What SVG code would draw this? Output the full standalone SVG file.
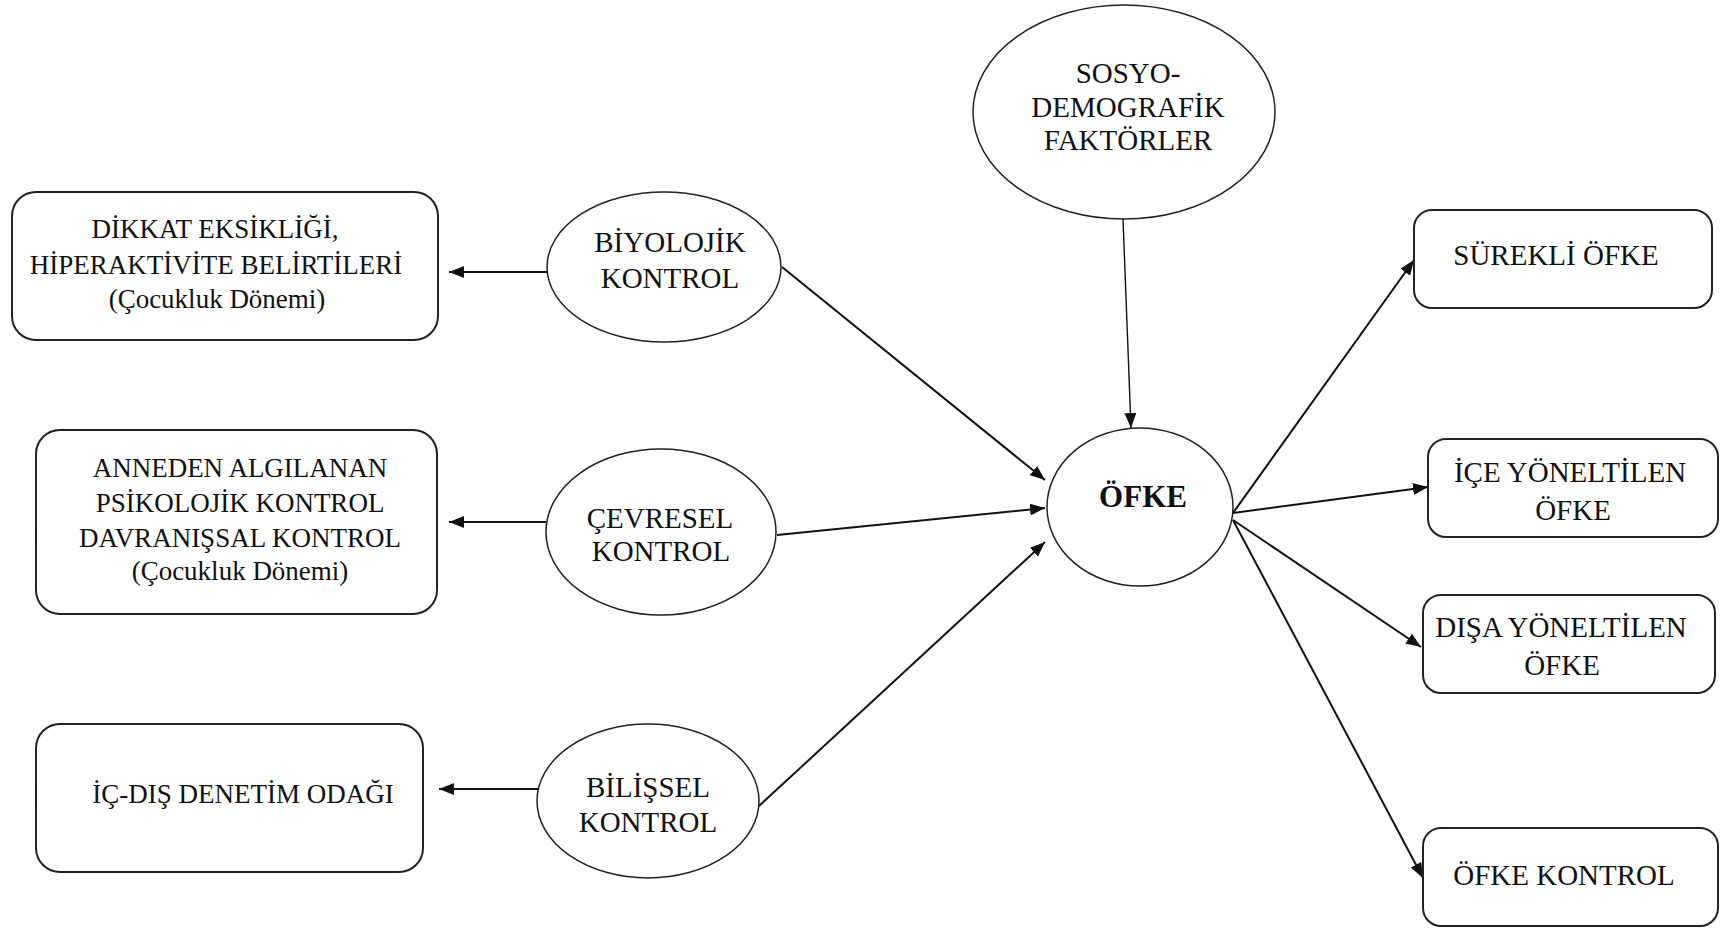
<svg xmlns="http://www.w3.org/2000/svg" width="1720" height="928" viewBox="0 0 1720 928">
<style>
  .bg{fill:#ffffff}
  .box{fill:#ffffff;stroke:#222;stroke-width:2}
  .ell{fill:#ffffff;stroke:#222;stroke-width:1.5}
  .t{font-family:"Liberation Serif","Times New Roman",serif;font-size:27px;fill:#111;text-anchor:middle}
  .l{font-size:29px}
  .b{font-weight:bold;font-size:31px}
  .c{fill:none;stroke:#111;stroke-width:2;marker-end:url(#ah)}
  .thin{stroke-width:1.4}
</style>
<defs>
  <marker id="ah" markerUnits="userSpaceOnUse" markerWidth="16" markerHeight="12" refX="15" refY="6" orient="auto">
    <path d="M0,0 L15,6 L0,12 z" fill="#111"/>
  </marker>
</defs>
<rect class="bg" x="0" y="0" width="1720" height="928"/>

<g id="connectors">
  <line class="c" x1="547" y1="272" x2="449" y2="272"/>
  <line class="c" x1="546" y1="522" x2="449" y2="522"/>
  <line class="c" x1="538" y1="789" x2="439" y2="789"/>
  <line class="c" x1="782" y1="267" x2="1045" y2="480"/>
  <line class="c" x1="777" y1="535" x2="1045" y2="508"/>
  <line class="c" x1="759" y1="806" x2="1045" y2="542"/>
  <line class="c thin" x1="1123" y1="219" x2="1131" y2="428"/>
  <line class="c" x1="1233" y1="513" x2="1414" y2="260"/>
  <line class="c" x1="1233" y1="513" x2="1428" y2="487"/>
  <line class="c" x1="1233" y1="520" x2="1421" y2="647"/>
  <line class="c" x1="1233" y1="520" x2="1423" y2="878"/>
</g>

<g id="n-dikkat">
  <rect class="box" x="12" y="192" width="426" height="148" rx="24"/>
  <text class="t" x="215" y="238">DİKKAT EKSİKLİĞİ,</text>
  <text class="t" x="216" y="274">HİPERAKTİVİTE BELİRTİLERİ</text>
  <text class="t" x="217" y="308">(Çocukluk Dönemi)</text>
</g>
<g id="n-anneden">
  <rect class="box" x="36" y="430" width="401" height="184" rx="24"/>
  <text class="t" x="240" y="477">ANNEDEN ALGILANAN</text>
  <text class="t" x="240" y="512">PSİKOLOJİK KONTROL</text>
  <text class="t" x="240" y="547">DAVRANIŞSAL KONTROL</text>
  <text class="t" x="240" y="580">(Çocukluk Dönemi)</text>
</g>
<g id="n-icdis">
  <rect class="box" x="36" y="724" width="387" height="148" rx="24"/>
  <text class="t" x="243" y="803">İÇ-DIŞ DENETİM ODAĞI</text>
</g>

<g id="n-biyolojik">
  <ellipse class="ell" cx="664" cy="267" rx="117" ry="75"/>
  <text class="t l" x="670" y="252">BİYOLOJİK</text>
  <text class="t l" x="670" y="288">KONTROL</text>
</g>
<g id="n-cevresel">
  <ellipse class="ell" cx="661" cy="532" rx="115" ry="83"/>
  <text class="t l" x="660" y="528">ÇEVRESEL</text>
  <text class="t l" x="661" y="561">KONTROL</text>
</g>
<g id="n-bilissel">
  <ellipse class="ell" cx="648" cy="801" rx="111" ry="77"/>
  <text class="t l" x="648" y="797">BİLİŞSEL</text>
  <text class="t l" x="648" y="832">KONTROL</text>
</g>
<g id="n-sosyo">
  <ellipse class="ell" cx="1124" cy="112" rx="151" ry="107"/>
  <text class="t l" x="1128" y="83">SOSYO-</text>
  <text class="t l" x="1128" y="117">DEMOGRAFİK</text>
  <text class="t l" x="1128" y="150">FAKTÖRLER</text>
</g>
<g id="n-ofke">
  <ellipse class="ell" cx="1140" cy="507" rx="93" ry="79"/>
  <text class="t b" x="1143" y="507">ÖFKE</text>
</g>

<g id="n-surekli">
  <rect class="box" x="1414" y="210" width="298" height="98" rx="18"/>
  <text class="t l" x="1556" y="265">SÜREKLİ ÖFKE</text>
</g>
<g id="n-ice">
  <rect class="box" x="1428" y="439" width="290" height="98" rx="18"/>
  <text class="t l" x="1570" y="482">İÇE YÖNELTİLEN</text>
  <text class="t l" x="1573" y="520">ÖFKE</text>
</g>
<g id="n-disa">
  <rect class="box" x="1423" y="595" width="292" height="98" rx="18"/>
  <text class="t l" x="1561" y="637">DIŞA YÖNELTİLEN</text>
  <text class="t l" x="1562" y="675">ÖFKE</text>
</g>
<g id="n-kontrol">
  <rect class="box" x="1423" y="828" width="295" height="98" rx="18"/>
  <text class="t l" x="1564" y="885">ÖFKE KONTROL</text>
</g>
</svg>
